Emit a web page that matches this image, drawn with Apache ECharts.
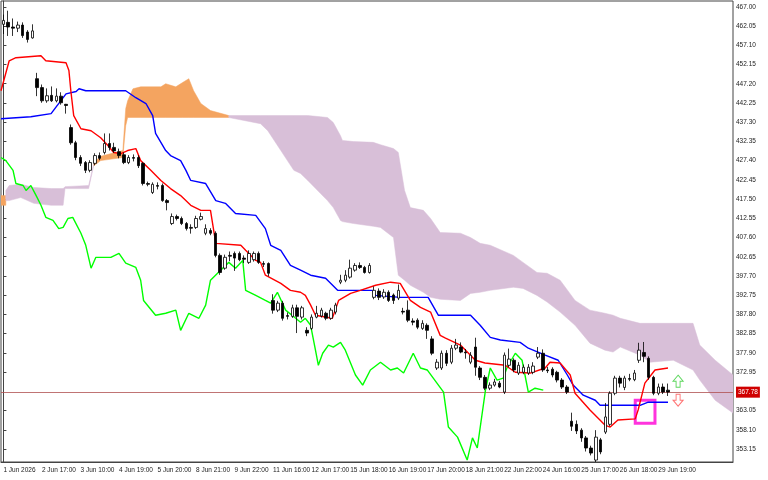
<!DOCTYPE html>
<html><head><meta charset="utf-8">
<script src="https://cdn.jsdelivr.net/npm/echarts@6/dist/echarts.min.js"></script>
<style>html,body{margin:0;padding:0;background:#fff}#c{width:768px;height:480px}</style>
</head><body><div id="c"></div>
<script>
const barCount = 152;
const xLabels = ['1 Jun 2026','2 Jun 17:00','3 Jun 10:00','4 Jun 19:00','5 Jun 20:00','8 Jun 21:00','9 Jun 22:00','11 Jun 16:00','12 Jun 17:00','15 Jun 18:00','16 Jun 19:00','17 Jun 20:00','18 Jun 21:00','22 Jun 22:00','24 Jun 16:00','25 Jun 17:00','26 Jun 18:00','29 Jun 19:00'];
const yTicks = [467.00,462.05,457.10,452.15,447.20,442.25,437.30,432.35,427.40,422.45,417.50,412.55,407.60,402.65,397.70,392.75,387.80,382.85,377.90,372.95,363.05,358.10,353.15];
const lastPrice = 367.78;
// candles: [open, close, high, low]
const candles = [
[462.5,463.5,465,460],[463,461.8,466,459.5],[461.8,461.5,464,459.5],[461.5,462.3,463.2,460.5],[462.3,459.6,463,459],[460.5,458.6,461,457.8],[459,460.8,462.5,458.8],
[448.5,446.2,450,444],[446.2,442.8,447,442.3],[442.8,444.1,446,442.3],[444.2,442.8,446.5,442.5],[442.8,444,446,442.4],[444,442.3,445,441.8],[441.9,441.6,442,439.5],
[435.9,432,436.7,431.5],[432,428.2,432.5,427.5],[428.2,426.7,428.8,426],[426.9,424.9,427.3,424.2],[424.9,426.9,427.5,424.4],[426.7,428.7,429.3,426.2],[428.7,428,429.5,427.5],
[429.5,431.8,434.4,429],[431.8,430.8,434.4,430],[430.8,429.9,432,429.4],[429.7,428.7,430.5,428],[428.9,426.9,429.5,426.5],[426.9,428.2,428.8,426.5],[428.2,428,429,427.2],
[428.2,426.1,428.8,425.5],[426.7,421.5,427,421],[421.5,421.3,422,420.8],[419.2,421.3,421.8,418.8],[421,420.8,421.8,420],[421,417.1,421.5,416.8],[417.1,416.6,417.5,414.6],
[411.2,413,413.8,410.8],[413,412.5,413.5,412],[412.5,411.2,413,410.8],[411.2,409.9,411.6,409.4],[410.2,410,411,408.6],[410.2,412.5,413.2,409.8],[412.3,413,414,412],
[408.7,409.9,411,408.2],[409.4,408.7,410,408.2],[408.7,403,409.2,402.5],[403,398.6,403.5,398],[399.7,402.5,403.2,399.3],[403,402.8,404,401.5],[403.5,402.3,404,399],
[403.5,401.9,404,401.5],[402.3,402,403,401],[401.2,403.5,404.3,400.8],[401.9,403.5,404,401.4],[403.5,401.2,404,400.8],[400.9,400.7,401.5,400],[400.9,398.4,401.2,397.6],
[391.4,388.9,393,388],[388.9,390.7,391.3,388.4],[390.7,386.8,391.3,386.2],[387.5,387.3,388.3,386.5],[387.3,389.5,390.3,386.9],[389.5,387.3,390.3,383],[387.1,389.5,390,386.5],
[383.7,383,384.5,382.2],[384.2,387.1,387.8,383.8],[387.1,388.1,390,386.8],[387.4,388.9,389.5,387],[388.1,386.8,388.5,386.3],[386.8,388.9,389.5,386.4],[388.4,390.2,390.8,387.8],
[396.1,396.6,398,395.6],[396.6,397.9,399.2,396.1],[397.4,399.7,401.9,397],[399.2,400.4,401,398.8],[400.4,399.9,401.2,399.5],[399.9,398.6,400.3,398.3],[398.6,400.4,401,398.3],
[392.2,394,395,391.7],[393.8,392.2,394.5,391.5],[392.3,393.5,394.3,391.8],[393.5,391.4,394,391],[392.8,391.4,393.2,390.5],[392,394,395.5,391.5],[388.6,388.4,389.5,387.8],
[388.9,386.3,391.4,385.8],[386.1,385.8,386.8,385],[386.3,384.5,386.8,384],[384.2,385.5,386.3,383.8],[385,383.7,385.5,381.5],[381.5,377.8,382.2,377.3],[374,375.5,376.3,373.5],
[374,377.8,378.5,373.5],[377.8,375.2,378.6,374.5],[375.5,379.1,379.9,375],[379.1,379.9,381.5,378.6],[379.4,378.1,380.6,377.8],[378.1,377.9,378.9,376.4],[375.5,377.3,378.1,375],
[379.4,374.2,381.8,372],[374,371.6,374.5,370.9],[371.6,368.8,372.2,368.3],[368.8,369.6,370.3,368.3],[369.6,370.4,371.2,369.2],[370.1,369.1,370.7,368.8],[367.8,377.3,378,367.3],
[374.7,376.3,379,374.2],[376,373.5,376.5,372.9],[372.7,374.7,375.5,372.2],[372.9,374.2,374.9,372.4],[372.7,374.2,375,372.2],[372.9,374.5,375.5,372.4],[376.8,377.8,379.4,376.3],
[377.8,373.5,378.8,373],[373.5,373.3,374.3,372.7],[373.7,372.2,374.2,371.6],[372.9,370.9,373.3,370.3],[370.9,369.1,371.4,368.6],[369.1,367.8,369.6,367.3],
[360.3,359,362.5,357.8],[359.5,357.8,360.5,357],[358,356,358.5,355],[356,353.4,356.5,352.5],[353.4,352.1,354,351.5],[350.3,356.2,358,349.8],[355.5,352.4,356,351.8],
[357.5,361.4,365,357],[359.5,367.5,368,359],[367.5,371.4,372,367],[371.4,370.1,372,369],[369,371.4,372,368.3],[371.3,371.1,372.5,370.6],[371,372.7,373.5,370.6],
[376,378.6,380.5,375.3],[378,377,380.7,375.5],[376.5,371.6,377,371],[371.6,367.5,372,367],[367.5,369.1,370,367],[369.1,367.8,370,367.3],[368.3,367.8,370,366.8]
];
// [bar, price]
const tenkan = [[-0.5,445.4],[1.2,453.1],[2.6,453.9],[7.8,454.4],[8.8,453.1],[13,452.6],[13.6,450.6],[14,445.4],[14.6,439],[16.1,435.6],[18.2,435.1],[20.2,433.3],[21.7,431.3],[22.9,429.5],[24.4,429.2],[25.8,430],[27.5,430.5],[28.5,427.4],[30.6,424.9],[32.7,422.3],[34.7,420.2],[36.8,418.4],[38.9,415.9],[41,414.6],[43,414.6],[44.1,406.1],[49.3,405.6],[50.3,404.3],[52.4,401.7],[53.4,401.2],[54.4,397.9],[57.6,395.8],[59.6,394],[61.7,393.5],[62.7,392.7],[63.8,390.2],[64.8,387.6],[68.3,386.8],[69.6,391.4],[72.1,393.2],[74.1,394],[77.3,395.3],[80.4,396.1],[82.4,395.8],[84.5,391.4],[86.6,389.6],[88.7,388.4],[90.7,382.4],[91.8,381.7],[94.9,379.9],[98,376],[100,375.3],[104.2,374.7],[106.3,372.9],[109.4,372.7],[112.5,374],[113.5,375.5],[115.6,375.3],[117.7,372.2],[118.7,367.5],[121.8,363.2],[124.9,359.3],[126,358.8],[127.6,360.6],[131.2,360.9],[131.8,363.2],[133.2,370.1],[135.3,373.5],[138,374]];
const kijun = [[-0.5,438.2],[5.7,438.7],[9.9,439.5],[11.9,442.8],[13,444.6],[15.1,445.2],[15.7,445.9],[17.1,445.4],[25.4,445.4],[27.5,443.6],[29.6,442.1],[31,439],[31.6,434.4],[33.7,430],[34.7,428.7],[36.8,427.4],[37.9,424.9],[38.9,422.3],[42,421.5],[44.1,417.1],[46.1,416.4],[48.2,413.8],[52.4,413.3],[54.4,409.9],[55.5,405.6],[57.6,404.3],[59.6,400.4],[61.7,399.2],[63.8,397.9],[66.9,397.1],[69.4,394],[76.6,394],[77.3,392.7],[82.4,392.2],[88.2,392.2],[90.3,387.6],[97,387.6],[99,385],[101.1,381.9],[103.2,381.2],[107.3,380.6],[109,379.1],[112.5,377.3],[115.2,376],[117.1,372.2],[118.3,369.6],[120.4,367],[122.9,365.7],[123.9,364.4],[132.2,364.4],[133.9,365.2],[138,365.2]];
const chikou = [[-0.5,428.2],[0.5,427.4],[2,424.9],[2.6,421.5],[4.1,421],[4.7,419.7],[5.7,421],[6.8,418.4],[7.8,415.9],[8.8,412.8],[10.3,412],[11.5,409.9],[12.4,410.2],[13.4,412.5],[14.4,412.8],[16.1,408.7],[17.1,405.6],[18.2,399.7],[19.2,402.5],[22.3,402.5],[24,403.5],[25.4,401],[27.5,399.9],[28.5,396.6],[29.1,391.4],[31.6,387.6],[33.7,388.1],[35.8,388.9],[36.8,383.7],[38.5,388.1],[40.6,386.8],[42,390.2],[43,396.6],[45.1,399.2],[46.8,401.2],[48.2,399.7],[49.7,401.7],[50.3,394],[52.4,392.7],[54.4,391.4],[55.5,390.7],[56.9,393.5],[58.6,388.9],[60.7,386.8],[61.7,385.8],[62.7,386.8],[63.8,385],[64.2,382.4],[64.8,378.6],[65.4,374.7],[66.3,377.8],[67.5,379.9],[68.5,379.4],[70,380.6],[71,378.6],[73.1,372.2],[74.6,369.6],[76.2,373.5],[78.3,375.5],[80.4,373.5],[81.8,374],[83.1,372.7],[85.1,377.8],[86.6,374],[88,373.5],[91.4,367.8],[92.4,358.8],[94.3,356.2],[96.3,350.3],[97.4,356],[98.4,353.4],[100.1,368.3],[101.1,374],[102.5,370.9],[103.8,371.4],[104.6,374.2],[106.3,377.8],[107.7,376],[109,367.8],[110.4,368.8],[112.1,368.3]];
// cloud segments: [bar, upper, lower]
const cloudOrangeA = [[-0.5,418.4,415.9],[0.5,418.4,415.9]];
const cloudPurpleA = [[0.5,419.7,417.1],[1.2,421,417.1],[3.6,421.3,417.9],[6.3,420.5,416.4],[9.9,420.2,415.9],[12.4,420.2,415.9],[12.8,420.7,420.2],[17.7,421,420.2],[18.8,426.9,426.4]];
const cloudOrangeB = [[18.8,426.9,426.1],[20.2,428.5,427.4],[24.8,430,428.2],[25.4,440.8,436.4],[25.8,442.8,438.5],[26.9,445.9,438.5],[28.5,446.4,438.5],[32.7,446.4,438.5],[33.7,447.2,438.5],[35.8,446.4,438.5],[37.2,447.5,438.5],[38.5,448.5,438.5],[39.5,445.4,438.5],[41,442.1,438.5],[43,440.3,438.5],[46.8,439,438.5]];
const cloudPurpleB = [[46.8,439,438.5],[53.4,439,436.9],[54.9,439,435.1],[57.6,439,430],[60.3,439,424.9],[61.7,439,424.1],[63.2,439,422.3],[65.8,438.7,419],[67.3,438.5,417.1],[68.5,437.2,415.3],[70,433.8,412],[70.4,432.6,411.7],[72.7,432.3,411.2],[76.8,432.1,410.5],[78.3,431.5,410.2],[81,430.5,407.6],[82,429.5,397.9],[83.3,419.7,396.6],[84.5,415.3,395.3],[87.2,414.6,393.5],[88.7,412.5,392.2],[90.7,408.9,391.7],[94.9,408.7,391.4],[97,407.6,393.2],[99,406.1,393.5],[101.1,405.6,394],[105.9,403,394.8],[107.9,401.2,394.5],[110.8,398.6,392.7],[112.9,398.4,391],[115.6,396.6,388.4],[118.7,391.4,385],[121.8,388.9,380.4],[124.9,388.1,378.6],[126.6,387.6,378.1],[128.1,386.8,379.4],[132.2,385.5,377.3],[134.3,385.5,375.5],[139.1,385.5,376],[143.2,385.5,373.5],[144.6,379.9,370.9],[147.8,376,365.7],[151.5,372.2,362.4]];
const signalBox = [[131.2,365.7],[135.3,359.8]];
const upArrow = [140.1,370.6];
const downArrow = [140.1,365.7];

function cloudSeries(pts, color) {
  return {
    type: 'custom', xAxisIndex: 1, z: 1, silent: true, clip: true,
    data: [pts[0]],
    renderItem: function (params, api) {
      const upper = pts.map(p => api.coord([p[0], p[1]]));
      const lower = pts.map(p => api.coord([p[0], p[2]])).reverse();
      return { type: 'polygon', shape: { points: upper.concat(lower) },
        style: { fill: color, stroke: color, lineWidth: 0.5 } };
    }
  };
}
function lineSeries(pts, color) {
  return { type: 'line', xAxisIndex: 1, data: pts, symbol: 'none', z: 3, silent: true,
    lineStyle: { color: color, width: 1.4 } };
}
const cats = Array.from({ length: barCount }, (_, i) => String(i));
const font = 'Liberation Sans';
const showTick = (i) => i % 8 === 0 && i / 8 < xLabels.length;
const chart = echarts.init(document.getElementById('c'));
chart.setOption({
  animation: false,
  backgroundColor: '#fff',
  grid: { left: 1, right: 35, top: 1, bottom: 18, show: true, borderColor: '#444', borderWidth: 1 },
  xAxis: [{
    type: 'category', data: cats, boundaryGap: true,
    axisLine: { lineStyle: { color: '#444' } },
    axisTick: { interval: showTick, length: 4, lineStyle: { color: '#444' }, alignWithLabel: true },
    axisLabel: { interval: showTick, hideOverlap: false, formatter: (v, i) => xLabels[i / 8] || '',
      align: 'left', fontSize: 6.5, fontFamily: font, color: '#222', margin: 5 },
    splitLine: { show: false }
  }, {
    type: 'value', min: -0.5, max: barCount - 0.5, show: false
  }],
  yAxis: {
    type: 'value', position: 'right', min: 349.8, max: 468.5, scale: true,
    axisLine: { show: true, lineStyle: { color: '#444' } },
    axisTick: { show: true, length: 3, customValues: yTicks, lineStyle: { color: '#444' } },
    axisLabel: { customValues: yTicks, formatter: v => v.toFixed(2), fontSize: 6.5, fontFamily: font, color: '#222', margin: 3 },
    splitLine: { show: false }
  },
  series: [
    cloudSeries(cloudOrangeA, '#F4A460'),
    cloudSeries(cloudPurpleA, '#D8BFD8'),
    cloudSeries(cloudOrangeB, '#F4A460'),
    cloudSeries(cloudPurpleB, '#D8BFD8'),
    lineSeries(chikou, '#00FF00'),
    lineSeries(kijun, '#0000FF'),
    lineSeries(tenkan, '#FF0000'),
    {
      type: 'candlestick', xAxisIndex: 0, z: 4, barWidth: 3, silent: true,
      data: candles.map(c => [c[0], c[1], c[3], c[2]]),
      itemStyle: { color: '#fff', color0: '#000', borderColor: '#000', borderColor0: '#000', borderWidth: 0.8 },
      markLine: { symbol: 'none', silent: true, z: 2,
        lineStyle: { color: '#b05050', width: 0.8, type: 'solid' },
        label: { show: true, position: 'end', formatter: lastPrice.toFixed(2), backgroundColor: '#d00000',
          color: '#fff', fontSize: 6.5, fontFamily: font, padding: [2, 2], distance: 3 },
        data: [{ yAxis: lastPrice }] }
    },
    {
      type: 'line', xAxisIndex: 1, data: [], z: 5,
      markArea: { silent: true, itemStyle: { color: 'rgba(0,0,0,0)', borderColor: '#FF33DD', borderWidth: 3 },
        data: [[{ coord: signalBox[0] }, { coord: signalBox[1] }]] }
    },
    {
      type: 'scatter', xAxisIndex: 1, z: 6, silent: true,
      data: [
        { value: upArrow, symbol: 'path://M5,0 L10,5 L7,5 L7,10 L3,10 L3,5 L0,5 Z', itemStyle: { color: '#fff', borderColor: '#33cc33', borderWidth: 1 } },
        { value: downArrow, symbol: 'path://M3,0 L7,0 L7,5 L10,5 L5,10 L0,5 L3,5 Z', itemStyle: { color: '#fff', borderColor: '#ff5050', borderWidth: 1 } }
      ],
      symbolSize: [10, 12]
    }
  ]
});
</script></body></html>
